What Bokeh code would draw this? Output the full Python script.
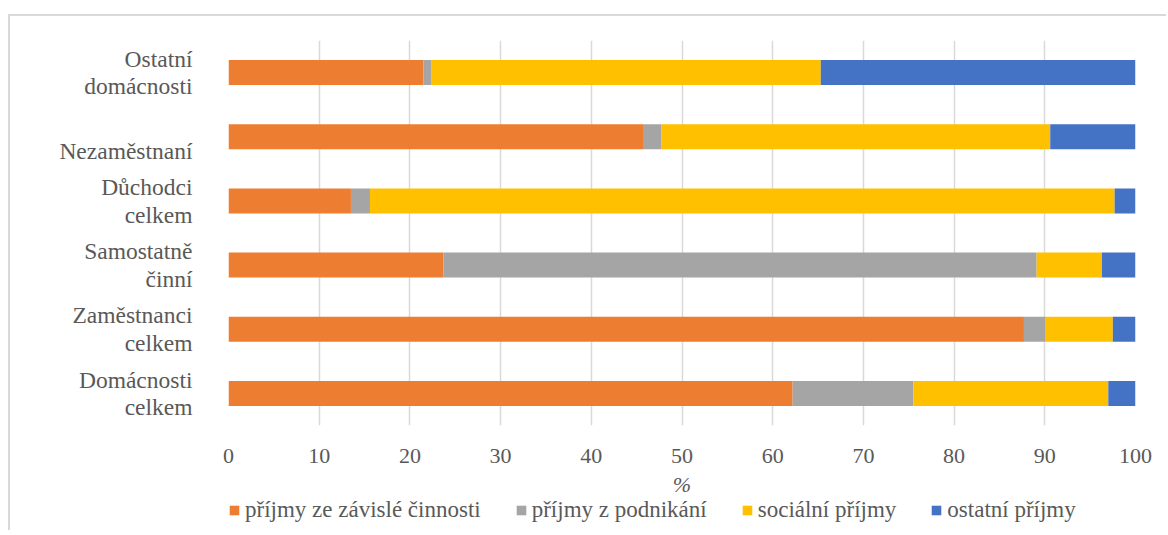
from bokeh.plotting import figure
from bokeh.layouts import column
from bokeh.models import Range1d, FixedTicker, Legend, LegendItem, ColumnDataSource
from bokeh.embed import file_html
from bokeh.resources import INLINE

categories = ["Domácnosti celkem", "Zaměstnanci celkem", "Samostatně činní",
              "Důchodci celkem", "Nezaměstnaní", "Ostatní domácnosti"]
category_labels = ["Domácnosti\ncelkem", "Zaměstnanci\ncelkem", "Samostatně\nčinní",
                   "Důchodci\ncelkem", "\nNezaměstnaní", "Ostatní\ndomácnosti"]

series_names = ["příjmy ze závislé činnosti", "příjmy z podnikání", "sociální příjmy", "ostatní příjmy"]
zavisla = [62.2, 87.7, 23.7, 13.5, 45.7, 21.5]
podnikani = [13.3, 2.4, 65.4, 2.1, 2.0, 0.9]
socialni = [21.5, 7.4, 7.2, 82.1, 42.9, 42.9]
ostatni = [3.0, 2.5, 3.7, 2.3, 9.4, 34.7]
colors = ["#ED7D31", "#A5A5A5", "#FFC000", "#4472C4"]
x_ticks = [0, 10, 20, 30, 40, 50, 60, 70, 80, 90, 100]

FONT = "Liberation Serif"
TXT = "#595959"
BORDER = "2px solid #D9D9D9"

idx = list(range(len(categories)))
keys = ["zavisla", "podnikani", "socialni", "ostatni"]
source = ColumnDataSource(dict(pos=idx, zavisla=zavisla, podnikani=podnikani,
                               socialni=socialni, ostatni=ostatni))

p = figure(frame_width=905, frame_height=383,
           y_range=Range1d(-0.5, len(categories) - 0.5), x_range=Range1d(0, 100),
           output_backend="svg", toolbar_location=None,
           min_border_left=218, min_border_right=33, min_border_top=24, min_border_bottom=0)
p.styles = {"margin-left": "8px", "margin-top": "14px", "border-top": BORDER, "border-left": BORDER}

p.hbar_stack(keys, y="pos", height=0.39, color=colors, source=source, line_color=None)

p.outline_line_color = None
p.background_fill_color = "white"
p.border_fill_color = "white"

p.ygrid.grid_line_color = None
p.xgrid.grid_line_color = "#D9D9D9"
p.xgrid.grid_line_width = 1.5
p.xaxis.ticker = FixedTicker(ticks=x_ticks)
p.yaxis.ticker = FixedTicker(ticks=idx)

for ax in (p.xaxis, p.yaxis):
    ax.axis_line_color = None
    ax.major_tick_line_color = None
    ax.minor_tick_line_color = None
    ax.major_tick_out = 0
    ax.major_tick_in = 0
    ax.major_label_text_font = FONT
    ax.major_label_text_color = TXT

p.xaxis.major_label_text_font_size = "22px"
p.xaxis.major_label_standoff = 23
p.xaxis.axis_label = "%"
p.xaxis.axis_label_text_font = FONT
p.xaxis.axis_label_text_font_style = "italic"
p.xaxis.axis_label_text_font_size = "22px"
p.xaxis.axis_label_text_color = TXT
p.xaxis.axis_label_standoff = 6

p.yaxis.major_label_text_font_size = "23.5px"
p.yaxis.major_label_text_align = "center"
p.yaxis.major_label_text_line_height = 1.06
p.yaxis.major_label_standoff = 36
p.yaxis.major_label_overrides = dict(zip(idx, category_labels))

# legend strip below the chart (same frame geometry as the main plot)
p2 = figure(frame_width=905, frame_height=33,
            y_range=Range1d(-0.5, len(categories) - 0.5), x_range=Range1d(0, 100),
            x_axis_location=None, y_axis_location=None,
            output_backend="svg", toolbar_location=None,
            min_border_left=218, min_border_right=33, min_border_top=0, min_border_bottom=0)
p2.styles = {"margin-left": "8px", "border-left": BORDER}
p2.grid.visible = False
p2.outline_line_color = None
p2.background_fill_color = "white"
p2.border_fill_color = "white"

legend_renderers = p2.hbar_stack(keys, y="pos", height=0.39, color=colors, source=source, line_color=None)
for r in legend_renderers:
    r.visible = False

legend = Legend(items=[LegendItem(label=n, renderers=[r]) for n, r in zip(series_names, legend_renderers)],
                orientation="horizontal", location="top_left",
                label_text_font=FONT, label_text_font_size="23px", label_text_color=TXT,
                glyph_width=12, glyph_height=12, label_standoff=5, spacing=34,
                padding=0, margin=0, border_line_color=None, background_fill_alpha=0,
                inactive_fill_alpha=0)
p2.add_layout(legend, "center")

layout = column(p, p2, spacing=0)
open("out.html", "w").write(file_html(layout, INLINE))
